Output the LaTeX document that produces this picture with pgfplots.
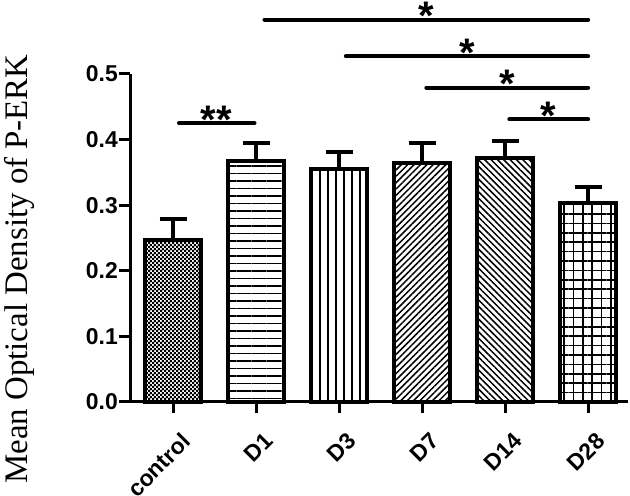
\documentclass[border=0pt]{standalone}
\usepackage{fontspec}
\setmainfont{Liberation Sans}
\newfontfamily\timesfont{Liberation Serif}
\usepackage{pgfplots}
\pgfplotsset{compat=1.18}
\usetikzlibrary{patterns,patterns.meta}
\pgfdeclarepatternformonly{checker}{\pgfpointorigin}{\pgfpoint{4.4bp}{4.4bp}}{\pgfpoint{4.4bp}{4.4bp}}{%
  \pgfpathrectangle{\pgfpointorigin}{\pgfpoint{2.5bp}{2.5bp}}%
  \pgfpathrectangle{\pgfpoint{2.2bp}{2.2bp}}{\pgfpoint{2.5bp}{2.5bp}}%
  \pgfusepath{fill}}
\pgfplotsset{
  mybar/.style={ybar, bar shift=0pt, bar width=56bp, draw=black, line width=4bp,
    error bars/y dir=plus, error bars/y explicit,
    error bars/error mark=|,
    error bars/error bar style={line width=4bp, black},
    error bars/error mark options={line width=4bp, mark size=13.5bp, black}},
  sig/.style={line width=4bp, line cap=round, black, forget plot},
}
\tikzset{sigstar/.style={font=\fontsize{40}{40}\selectfont\bfseries, anchor=base, yshift=-10bp, inner sep=0pt}}
\begin{document}
\begin{tikzpicture}[x=1bp,y=1bp]
\useasboundingbox (0,0) rectangle (630,496);
\begin{axis}[
  at={(130bp,94bp)}, anchor=south west,
  scale only axis, width=498bp, height=328bp,
  xmin=-0.52, xmax=5.48, ymin=0, ymax=0.5,
  clip=false,
  axis lines=left,
  axis line style={-, line width=3bp, black},
  tick style={line width=3bp, black},
  major tick length=11bp, tick align=outside,
  xtick={0,1,2,3,4,5},
  xticklabels={control,D1,D3,D7,D14,D28},
  ytick={0,0.1,0.2,0.3,0.4,0.5},
  /pgf/number format/assume math mode=true,
  yticklabel style={/pgf/number format/fixed, /pgf/number format/fixed zerofill, /pgf/number format/precision=1,
    font=\fontsize{23}{24}\selectfont\bfseries, inner sep=1bp},
  xticklabel style={rotate=45, anchor=north east, font=\fontsize{23}{24}\selectfont\bfseries, inner sep=1bp, yshift=-17bp, xshift=-7bp},
]
\addplot[mybar, pattern=checker, pattern color=black] coordinates {(0,0.247) +- (0,0.032)};
\addplot[mybar, pattern={Lines[angle=0, distance=7.5bp, line width=1.5bp]}, pattern color=black] coordinates {(1,0.368) +- (0,0.027)};
\addplot[mybar, pattern={Lines[angle=90, distance=8bp, line width=1.5bp]}, pattern color=black] coordinates {(2,0.355) +- (0,0.026)};
\addplot[mybar, pattern={Lines[angle=45, distance=4.5bp, line width=1.5bp]}, pattern color=black] coordinates {(3,0.365) +- (0,0.030)};
\addplot[mybar, pattern={Lines[angle=-45, distance=4.5bp, line width=1.5bp]}, pattern color=black] coordinates {(4,0.372) +- (0,0.026)};
\addplot[mybar, pattern={Hatch[angle=0, distance=9.4bp, line width=1.5bp]}, pattern color=black] coordinates {(5,0.304) +- (0,0.023)};
% significance bars
\addplot[sig] coordinates {(1.1,0.583) (5,0.583)};
\addplot[sig] coordinates {(2.08,0.527) (5,0.527)};
\addplot[sig] coordinates {(3.05,0.479) (5,0.479)};
\addplot[sig] coordinates {(4.05,0.431) (5,0.431)};
\addplot[sig] coordinates {(0.07,0.425) (0.98,0.425)};
\node[sigstar] at (axis cs:3.05,0.583) {\smash{*}};
\node[sigstar] at (axis cs:3.54,0.527) {\smash{*}};
\node[sigstar] at (axis cs:4.03,0.479) {\smash{*}};
\node[sigstar] at (axis cs:4.52,0.431) {\smash{*}};
\node[sigstar] at (axis cs:0.52,0.425) {\smash{**}};
\end{axis}
\node[rotate=90, font=\timesfont\fontsize{33}{36}\selectfont] at (19,227) {Mean Optical Density of P-ERK};
\end{tikzpicture}
\end{document}
